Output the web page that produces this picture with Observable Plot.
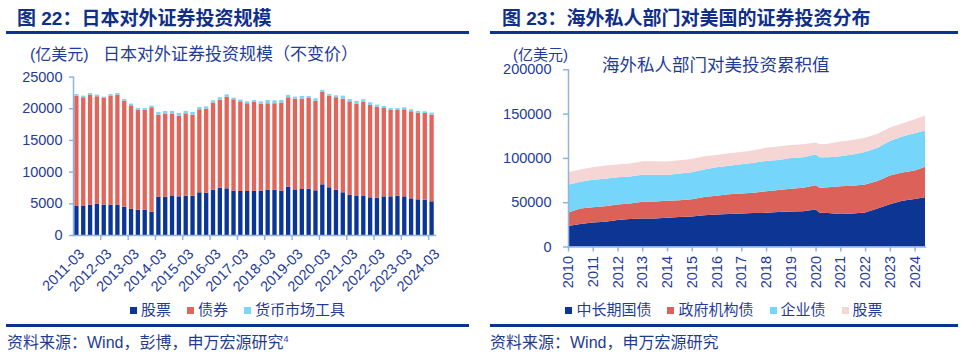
<!DOCTYPE html>
<html><head><meta charset="utf-8">
<script src="https://cdn.jsdelivr.net/npm/d3@7"></script>
<script src="https://cdn.jsdelivr.net/npm/@observablehq/plot@0.6"></script>
<style>
body{margin:0;background:#fff;}
#root{position:relative;width:962px;height:361px;background:#fff;overflow:hidden;font-family:"Liberation Sans","Noto Sans CJK SC",sans-serif;color:#1f3c98;}
.t{position:absolute;white-space:nowrap;line-height:1;}
.title{font-size:19px;font-weight:bold;color:#0f2f8a;}
.rule{position:absolute;height:2.5px;background:#0b3392;}
.legend{position:absolute;display:flex;justify-content:center;gap:16px;font-size:15px;line-height:1;color:#1f3c98;}
.legend span.sw{display:inline-block;width:7px;height:7px;margin-right:4px;vertical-align:middle;position:relative;top:-1px;}
.foot{font-size:16px;color:#1f3c8f;}
</style></head>
<body>
<div id="root">
  <div class="t title" style="left:17px;top:9px;">图 22：日本对外证券投资规模</div>
  <div class="rule" style="left:6px;top:31px;width:463px;"></div>
  <div class="t" style="left:30px;top:47px;font-size:16px;">(亿美元)</div>
  <div class="t" style="left:103px;top:46px;font-size:17px;">日本对外证券投资规模（不变价）</div>
  <div id="left" style="position:absolute;left:0;top:60px;"></div>
  <div class="legend" id="legL" style="left:6px;width:463px;top:302px;"></div>
  <div class="rule" style="left:6px;top:324px;width:463px;"></div>
  <div class="t foot" style="left:7px;top:335px;">资料来源：Wind，彭博，申万宏源研究<sup style="font-size:9px">4</sup></div>

  <div class="t title" style="left:502px;top:9px;">图 23：海外私人部门对美国的证券投资分布</div>
  <div class="rule" style="left:490px;top:31px;width:468px;"></div>
  <div class="t" style="left:513px;top:47px;font-size:15px;">(亿美元)</div>
  <div class="t" style="left:602px;top:57px;font-size:17.5px;">海外私人部门对美投资累积值</div>
  <div id="right" style="position:absolute;left:480px;top:60px;"></div>
  <div class="legend" id="legR" style="left:490px;width:468px;top:302px;"></div>
  <div class="rule" style="left:490px;top:324px;width:468px;"></div>
  <div class="t foot" style="left:490px;top:335px;">资料来源：Wind，申万宏源研究</div>
</div>
<script>
// ---------- Left chart data (亿美元) ----------
const quarters = [
 "2011-03","2011-06","2011-09","2011-12","2012-03","2012-06","2012-09","2012-12",
 "2013-03","2013-06","2013-09","2013-12","2014-03","2014-06","2014-09","2014-12",
 "2015-03","2015-06","2015-09","2015-12","2016-03","2016-06","2016-09","2016-12",
 "2017-03","2017-06","2017-09","2017-12","2018-03","2018-06","2018-09","2018-12",
 "2019-03","2019-06","2019-09","2019-12","2020-03","2020-06","2020-09","2020-12",
 "2021-03","2021-06","2021-09","2021-12","2022-03","2022-06","2022-09","2022-12",
 "2023-03","2023-06","2023-09","2023-12","2024-03"];
const stocks = [4580,4580,4790,4950,4790,4790,4790,4470,4160,4000,4000,3680,6050,6050,6160,6100,6200,6200,6740,6680,7160,7470,7370,7000,6950,6950,7000,7000,7160,7160,7000,7630,7200,7260,7320,7050,8000,7530,7160,6740,6370,6160,6160,5950,5900,6100,6100,6200,6100,5790,5630,5580,5320];
const bonds = [17420,17160,17370,16950,16840,17210,17370,16740,16310,15790,15790,16480,12950,13050,12940,12740,13000,12800,13100,13270,13740,13900,14470,14420,14150,13840,14000,13740,13630,13630,13900,14110,14330,14270,14310,14160,14580,14420,14580,14790,14730,14580,14840,14580,14360,13950,13640,13540,13740,13740,13690,13680,13680];
const mmf = [260,260,260,260,210,260,260,260,270,260,260,260,420,480,480,420,380,420,360,350,360,370,360,260,270,310,300,360,510,470,400,360,310,420,320,370,320,310,310,470,370,420,420,420,320,320,310,310,320,310,260,270,320];
const leftSeries = ["股票","债券","货币市场工具"];
const leftColors = ["#0b3596","#e0655b","#7dd6f7"];
const leftYTicks = [0,5000,10000,15000,20000,25000];

// ---------- Right chart data (亿美元) ----------
const dates = [2010,2010.5,2011,2011.5,2012,2012.5,2013,2013.5,2014,2014.5,2015,2015.5,2016,2016.5,2017,2017.5,2018,2018.5,2019,2019.5,2020,2020.17,2020.5,2021,2021.5,2022,2022.5,2023,2023.5,2024,2024.42];
const treasuries = [23100,25400,27200,28000,29800,31000,31700,31700,32500,33200,33900,35400,36200,36600,37300,37700,38000,38800,39500,39900,41800,38000,37700,36600,37300,38400,42900,47700,51500,53700,55600];
const agencies = [15300,17500,17200,17500,17600,17500,18700,19000,19000,19000,19400,20600,21200,22300,22400,23100,24300,25000,25800,26500,27200,28400,29100,31300,31300,31700,31000,32500,32100,32100,34300];
const corporates = [31400,30200,30900,31000,30900,30600,30500,30200,29100,30200,30600,30900,32100,32100,33200,33600,34300,33900,34700,34300,34700,34300,33900,33900,35100,36600,37600,38800,40600,42100,41000];
const equities = [14200,13800,14200,14900,14200,14500,15300,15300,15300,15000,14900,14900,13800,14200,13800,14100,14900,15300,14500,14600,13800,14600,15300,16800,16400,16000,15700,15300,14600,15700,16800];
const rightSeries = ["中长期国债","政府机构债","企业债","股票"];
const rightColors = ["#0c3594","#dc6259","#76d5fa","#f6d5d5"];
const years = [2010,2011,2012,2013,2014,2015,2016,2017,2018,2019,2020,2021,2022,2023,2024];
const rightYTicks = [0,50000,100000,150000,200000];

const axisColor = "#8fb4e3";
const textColor = "#1f3c98";
const font = "'Liberation Sans','Noto Sans CJK SC',sans-serif";

// ---------- Left chart ----------
const leftData = [];
[stocks, bonds, mmf].forEach((arr, k) => arr.forEach((v, i) => leftData.push({q: quarters[i], s: leftSeries[k], v})));
const LW = 475, LML = 73, LMR = 40;
const step = (LW - LML - LMR) / quarters.length;
const leftPlot = Plot.plot({
  width: LW, height: 240, marginLeft: LML, marginRight: LMR, marginTop: 16.6, marginBottom: 65,
  style: {fontFamily: font, fontSize: "14.5px", background: "transparent", color: textColor},
  x: {type: "band", domain: quarters, paddingInner: 0.37, paddingOuter: 0.185},
  y: {domain: [0, 25000]},
  color: {domain: leftSeries, range: leftColors},
  marks: [
    Plot.barY(leftData, {x: "q", y: "v", fill: "s", order: leftSeries}),
    Plot.frame({anchor: "left", stroke: axisColor, strokeWidth: 1.5}),
    Plot.frame({anchor: "bottom", stroke: axisColor, strokeWidth: 1.5}),
    Plot.axisY({ticks: leftYTicks, tickFormat: d => String(d), tickSize: 4, tickPadding: 7, stroke: axisColor, fill: textColor, strokeWidth: 1.5, label: null}),
    Plot.axisX({ticks: quarters.filter(d => d.endsWith("-03")), tickSize: 0, tickRotate: -45, tickPadding: 6, dx: 5, dy: 10, fill: textColor, label: null}),
    Plot.axisX({ticks: quarters.filter(d => d.endsWith("-12")), tickSize: 5, tickFormat: () => "", dx: step / 2, stroke: axisColor, strokeWidth: 1.5, label: null})
  ]
});
document.getElementById("left").appendChild(leftPlot);

// ---------- Right chart ----------
const rightData = [];
[treasuries, agencies, corporates, equities].forEach((arr, k) => arr.forEach((v, i) => rightData.push({t: dates[i], s: rightSeries[k], v})));
const rightPlot = Plot.plot({
  width: 482, height: 240, marginLeft: 88, marginRight: 37, marginTop: 9.3, marginBottom: 53.5,
  style: {fontFamily: font, fontSize: "14.5px", background: "transparent", color: textColor},
  x: {domain: [2010, 2024.42]},
  y: {domain: [0, 200000]},
  color: {domain: rightSeries, range: rightColors},
  marks: [
    Plot.areaY(rightData, {x: "t", y: "v", fill: "s", order: rightSeries}),
    Plot.frame({anchor: "left", stroke: axisColor, strokeWidth: 1.5}),
    Plot.frame({anchor: "bottom", stroke: axisColor, strokeWidth: 1.5}),
    Plot.axisY({ticks: rightYTicks, tickFormat: d => String(d), tickSize: 5, tickPadding: 12, stroke: axisColor, fill: textColor, strokeWidth: 1.5, label: null}),
    Plot.axisX({ticks: years, tickFormat: d => String(d), tickRotate: -90, tickSize: 5, tickPadding: 4, stroke: axisColor, fill: textColor, strokeWidth: 1.5, label: null})
  ]
});
document.getElementById("right").appendChild(rightPlot);

// ---------- Legends ----------
function legend(id, names, colors) {
  const el = document.getElementById(id);
  names.forEach((n, i) => {
    const item = document.createElement("div");
    item.innerHTML = `<span class="sw" style="background:${colors[i]}"></span>${n}`;
    el.appendChild(item);
  });
}
legend("legL", leftSeries, leftColors);
legend("legR", rightSeries, rightColors);
</script>
</body></html>
